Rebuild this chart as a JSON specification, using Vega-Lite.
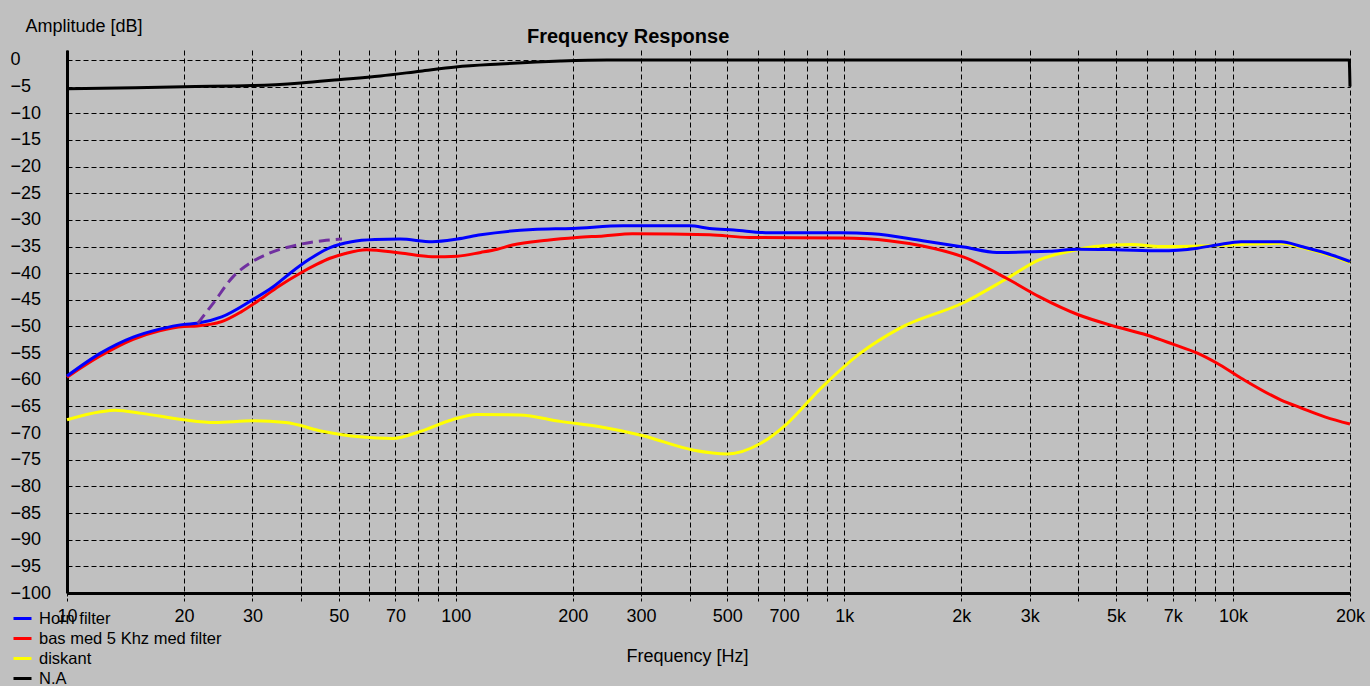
{
  "$schema": "https://vega.github.io/schema/vega-lite/v6.json",
  "width": 1283,
  "height": 543,
  "autosize": {"type": "none"},
  "padding": {"left": 67, "top": 50, "right": 20, "bottom": 93},
  "background": "#c0c0c0",
  "title": {
    "text": "Frequency Response",
    "anchor": "start",
    "frame": "group",
    "dx": 460,
    "dy": 38,
    "offset": 8,
    "font": "Liberation Sans",
    "fontSize": 20,
    "fontWeight": "bold",
    "color": "#000000"
  },
  "datasets": {
    "curves": [
      {"series": "N.A", "f": 10, "db": -5.4},
      {"series": "N.A", "f": 15, "db": -5.2},
      {"series": "N.A", "f": 20, "db": -5.0},
      {"series": "N.A", "f": 30, "db": -4.8},
      {"series": "N.A", "f": 40, "db": -4.3},
      {"series": "N.A", "f": 50, "db": -3.7},
      {"series": "N.A", "f": 64, "db": -3.0},
      {"series": "N.A", "f": 81, "db": -2.1},
      {"series": "N.A", "f": 100, "db": -1.3},
      {"series": "N.A", "f": 130, "db": -0.75},
      {"series": "N.A", "f": 186, "db": -0.2},
      {"series": "N.A", "f": 245, "db": 0},
      {"series": "N.A", "f": 1000, "db": 0},
      {"series": "N.A", "f": 19900, "db": 0},
      {"series": "N.A", "f": 20000, "db": -5},

      {"series": "diskant", "f": 10, "db": -67.5},
      {"series": "diskant", "f": 12.2, "db": -66},
      {"series": "diskant", "f": 13.3, "db": -65.7},
      {"series": "diskant", "f": 15.6, "db": -66.3},
      {"series": "diskant", "f": 20, "db": -67.5},
      {"series": "diskant", "f": 24, "db": -68},
      {"series": "diskant", "f": 30, "db": -67.7},
      {"series": "diskant", "f": 36.5, "db": -68},
      {"series": "diskant", "f": 45.7, "db": -69.7},
      {"series": "diskant", "f": 56.6, "db": -70.7},
      {"series": "diskant", "f": 69, "db": -71},
      {"series": "diskant", "f": 81, "db": -69.7},
      {"series": "diskant", "f": 98, "db": -67.5},
      {"series": "diskant", "f": 113, "db": -66.5},
      {"series": "diskant", "f": 146, "db": -66.6},
      {"series": "diskant", "f": 186, "db": -67.8},
      {"series": "diskant", "f": 235, "db": -68.8},
      {"series": "diskant", "f": 300, "db": -70.4},
      {"series": "diskant", "f": 410, "db": -73.2},
      {"series": "diskant", "f": 500, "db": -73.9},
      {"series": "diskant", "f": 610, "db": -71.9},
      {"series": "diskant", "f": 713, "db": -68.2},
      {"series": "diskant", "f": 870, "db": -61.6},
      {"series": "diskant", "f": 1100, "db": -55},
      {"series": "diskant", "f": 1390, "db": -50.3},
      {"series": "diskant", "f": 2030, "db": -45.5},
      {"series": "diskant", "f": 2620, "db": -41},
      {"series": "diskant", "f": 3170, "db": -37.5},
      {"series": "diskant", "f": 3800, "db": -35.9},
      {"series": "diskant", "f": 4400, "db": -35},
      {"series": "diskant", "f": 5500, "db": -34.6},
      {"series": "diskant", "f": 6500, "db": -35},
      {"series": "diskant", "f": 8300, "db": -34.9},
      {"series": "diskant", "f": 10500, "db": -34.6},
      {"series": "diskant", "f": 13300, "db": -34.4},
      {"series": "diskant", "f": 15000, "db": -35.2},
      {"series": "diskant", "f": 17300, "db": -36.4},
      {"series": "diskant", "f": 20000, "db": -38},

      {"series": "bas med  5 Khz med filter", "f": 10, "db": -59.5},
      {"series": "bas med  5 Khz med filter", "f": 12.2, "db": -55.5},
      {"series": "bas med  5 Khz med filter", "f": 14.8, "db": -52.4},
      {"series": "bas med  5 Khz med filter", "f": 17.3, "db": -50.8},
      {"series": "bas med  5 Khz med filter", "f": 20, "db": -50},
      {"series": "bas med  5 Khz med filter", "f": 21.6, "db": -49.9},
      {"series": "bas med  5 Khz med filter", "f": 25, "db": -49.1},
      {"series": "bas med  5 Khz med filter", "f": 28, "db": -47.3},
      {"series": "bas med  5 Khz med filter", "f": 31.3, "db": -45},
      {"series": "bas med  5 Khz med filter", "f": 35, "db": -42.5},
      {"series": "bas med  5 Khz med filter", "f": 39.8, "db": -40},
      {"series": "bas med  5 Khz med filter", "f": 44, "db": -38.3},
      {"series": "bas med  5 Khz med filter", "f": 47.5, "db": -37.2},
      {"series": "bas med  5 Khz med filter", "f": 52, "db": -36.3},
      {"series": "bas med  5 Khz med filter", "f": 59, "db": -35.6},
      {"series": "bas med  5 Khz med filter", "f": 72, "db": -36.2},
      {"series": "bas med  5 Khz med filter", "f": 87, "db": -36.9},
      {"series": "bas med  5 Khz med filter", "f": 101, "db": -36.8},
      {"series": "bas med  5 Khz med filter", "f": 116, "db": -36.1},
      {"series": "bas med  5 Khz med filter", "f": 128, "db": -35.5},
      {"series": "bas med  5 Khz med filter", "f": 140, "db": -34.7},
      {"series": "bas med  5 Khz med filter", "f": 172, "db": -33.8},
      {"series": "bas med  5 Khz med filter", "f": 205, "db": -33.3},
      {"series": "bas med  5 Khz med filter", "f": 240, "db": -33},
      {"series": "bas med  5 Khz med filter", "f": 285, "db": -32.6},
      {"series": "bas med  5 Khz med filter", "f": 450, "db": -32.8},
      {"series": "bas med  5 Khz med filter", "f": 570, "db": -33.3},
      {"series": "bas med  5 Khz med filter", "f": 980, "db": -33.4},
      {"series": "bas med  5 Khz med filter", "f": 1300, "db": -33.9},
      {"series": "bas med  5 Khz med filter", "f": 1590, "db": -34.9},
      {"series": "bas med  5 Khz med filter", "f": 2030, "db": -37},
      {"series": "bas med  5 Khz med filter", "f": 2620, "db": -41},
      {"series": "bas med  5 Khz med filter", "f": 3170, "db": -44.4},
      {"series": "bas med  5 Khz med filter", "f": 4000, "db": -47.8},
      {"series": "bas med  5 Khz med filter", "f": 4980, "db": -50},
      {"series": "bas med  5 Khz med filter", "f": 6000, "db": -51.6},
      {"series": "bas med  5 Khz med filter", "f": 7000, "db": -53.3},
      {"series": "bas med  5 Khz med filter", "f": 8100, "db": -55},
      {"series": "bas med  5 Khz med filter", "f": 9100, "db": -56.9},
      {"series": "bas med  5 Khz med filter", "f": 10500, "db": -59.7},
      {"series": "bas med  5 Khz med filter", "f": 13300, "db": -63.8},
      {"series": "bas med  5 Khz med filter", "f": 15000, "db": -65.3},
      {"series": "bas med  5 Khz med filter", "f": 17300, "db": -67},
      {"series": "bas med  5 Khz med filter", "f": 20000, "db": -68.3},

      {"series": "Horn filter", "f": 10, "db": -59.3},
      {"series": "Horn filter", "f": 12.2, "db": -55},
      {"series": "Horn filter", "f": 14.8, "db": -52},
      {"series": "Horn filter", "f": 17.3, "db": -50.5},
      {"series": "Horn filter", "f": 20, "db": -49.6},
      {"series": "Horn filter", "f": 21.6, "db": -49.4},
      {"series": "Horn filter", "f": 25, "db": -48.2},
      {"series": "Horn filter", "f": 30, "db": -45},
      {"series": "Horn filter", "f": 34, "db": -42.5},
      {"series": "Horn filter", "f": 37.5, "db": -40},
      {"series": "Horn filter", "f": 42, "db": -37.4},
      {"series": "Horn filter", "f": 47.5, "db": -35.2},
      {"series": "Horn filter", "f": 54, "db": -34.1},
      {"series": "Horn filter", "f": 62, "db": -33.7},
      {"series": "Horn filter", "f": 72, "db": -33.6},
      {"series": "Horn filter", "f": 87, "db": -34.1},
      {"series": "Horn filter", "f": 101, "db": -33.6},
      {"series": "Horn filter", "f": 116, "db": -32.8},
      {"series": "Horn filter", "f": 158, "db": -31.8},
      {"series": "Horn filter", "f": 200, "db": -31.6},
      {"series": "Horn filter", "f": 270, "db": -31.1},
      {"series": "Horn filter", "f": 400, "db": -31.1},
      {"series": "Horn filter", "f": 450, "db": -31.6},
      {"series": "Horn filter", "f": 520, "db": -31.9},
      {"series": "Horn filter", "f": 640, "db": -32.4},
      {"series": "Horn filter", "f": 980, "db": -32.4},
      {"series": "Horn filter", "f": 1180, "db": -32.6},
      {"series": "Horn filter", "f": 1590, "db": -33.9},
      {"series": "Horn filter", "f": 2030, "db": -35.1},
      {"series": "Horn filter", "f": 2470, "db": -36.1},
      {"series": "Horn filter", "f": 3370, "db": -35.9},
      {"series": "Horn filter", "f": 4000, "db": -35.5},
      {"series": "Horn filter", "f": 5000, "db": -35.6},
      {"series": "Horn filter", "f": 6500, "db": -35.8},
      {"series": "Horn filter", "f": 8100, "db": -35.3},
      {"series": "Horn filter", "f": 9100, "db": -34.7},
      {"series": "Horn filter", "f": 10500, "db": -34.1},
      {"series": "Horn filter", "f": 13300, "db": -34.1},
      {"series": "Horn filter", "f": 15000, "db": -35},
      {"series": "Horn filter", "f": 17300, "db": -36.2},
      {"series": "Horn filter", "f": 20000, "db": -37.8}
    ],
    "dashed": [
      {"f": 21.7, "db": -49.4},
      {"f": 23.8, "db": -45.6},
      {"f": 26.8, "db": -40.6},
      {"f": 29.6, "db": -38.1},
      {"f": 33.3, "db": -36.2},
      {"f": 39.1, "db": -34.7},
      {"f": 45.5, "db": -33.9},
      {"f": 51, "db": -33.6}
    ]
  },
  "encoding": {
    "x": {
      "field": "f",
      "type": "quantitative",
      "scale": {"type": "log", "domain": [10, 20000], "nice": false},
      "axis": {
        "title": "Frequency [Hz]",
        "values": [10, 20, 30, 40, 50, 60, 70, 80, 90, 100, 200, 300, 400, 500, 600, 700, 800, 900, 1000, 2000, 3000, 4000, 5000, 6000, 7000, 8000, 9000, 10000, 20000],
        "labelExpr": "indexof([10,20,30,50,70,100,200,300,500,700,1000,2000,3000,5000,7000,10000,20000], datum.value) >= 0 ? (datum.value >= 1000 ? (datum.value / 1000) + 'k' : '' + datum.value) : ''",
        "labelOverlap": false,
        "labelBound": false,
        "labelFlush": false,
        "tickSize": 10,
        "tickDash": [3, 2],
        "tickColor": "#000000",
        "tickWidth": 1,
        "labelPadding": 4,
        "titleX": 620,
        "titleY": 63,
        "titleAlign": "center",
        "titleBaseline": "middle"
      }
    },
    "y": {
      "field": "db",
      "type": "quantitative",
      "scale": {"domain": [-100, 1.875], "nice": false, "zero": false},
      "axis": {
        "title": "Amplitude [dB]",
        "values": [0, -5, -10, -15, -20, -25, -30, -35, -40, -45, -50, -55, -60, -65, -70, -75, -80, -85, -90, -95, -100],
        "ticks": false,
        "labelAlign": "left",
        "labelBaseline": "middle",
        "labelPadding": 57,
        "labelOverlap": false,
        "labelBound": false,
        "labelFlush": false,
        "titleAngle": 0,
        "titleX": -42,
        "titleY": -24,
        "titleAlign": "left",
        "titleBaseline": "middle"
      }
    }
  },
  "layer": [
    {
      "data": {"name": "curves"},
      "mark": {"type": "line", "strokeWidth": 3, "interpolate": "monotone"},
      "encoding": {
        "color": {
          "field": "series",
          "type": "nominal",
          "scale": {
            "domain": ["Horn filter", "bas med  5 Khz med filter", "diskant", "N.A"],
            "range": ["#0000ff", "#ff0000", "#ffff00", "#000000"]
          },
          "legend": {
            "title": null,
            "orient": "none",
            "legendX": -55,
            "legendY": 558,
            "direction": "vertical",
            "symbolType": "stroke",
            "symbolSize": 324,
            "symbolStrokeWidth": 3,
            "labelFont": "Liberation Sans",
            "labelFontSize": 16.5,
            "labelColor": "#000000",
            "labelOffset": 6,
            "rowPadding": 1,
            "padding": 0,
            "labelLimit": 400
          }
        }
      }
    },
    {
      "data": {"name": "dashed"},
      "mark": {"type": "line", "strokeWidth": 3, "color": "#7030a0", "strokeDash": [11, 6], "interpolate": "monotone"},
      "encoding": {}
    }
  ],
  "config": {
    "view": {"stroke": null},
    "axis": {
      "grid": true,
      "gridColor": "#000000",
      "gridDash": [5, 3],
      "gridWidth": 1,
      "gridOpacity": 1,
      "domainColor": "#000000",
      "domainWidth": 3,
      "labelColor": "#000000",
      "labelFont": "Liberation Sans",
      "labelFontSize": 18,
      "titleColor": "#000000",
      "titleFont": "Liberation Sans",
      "titleFontSize": 18,
      "titleFontWeight": "normal"
    }
  }
}
